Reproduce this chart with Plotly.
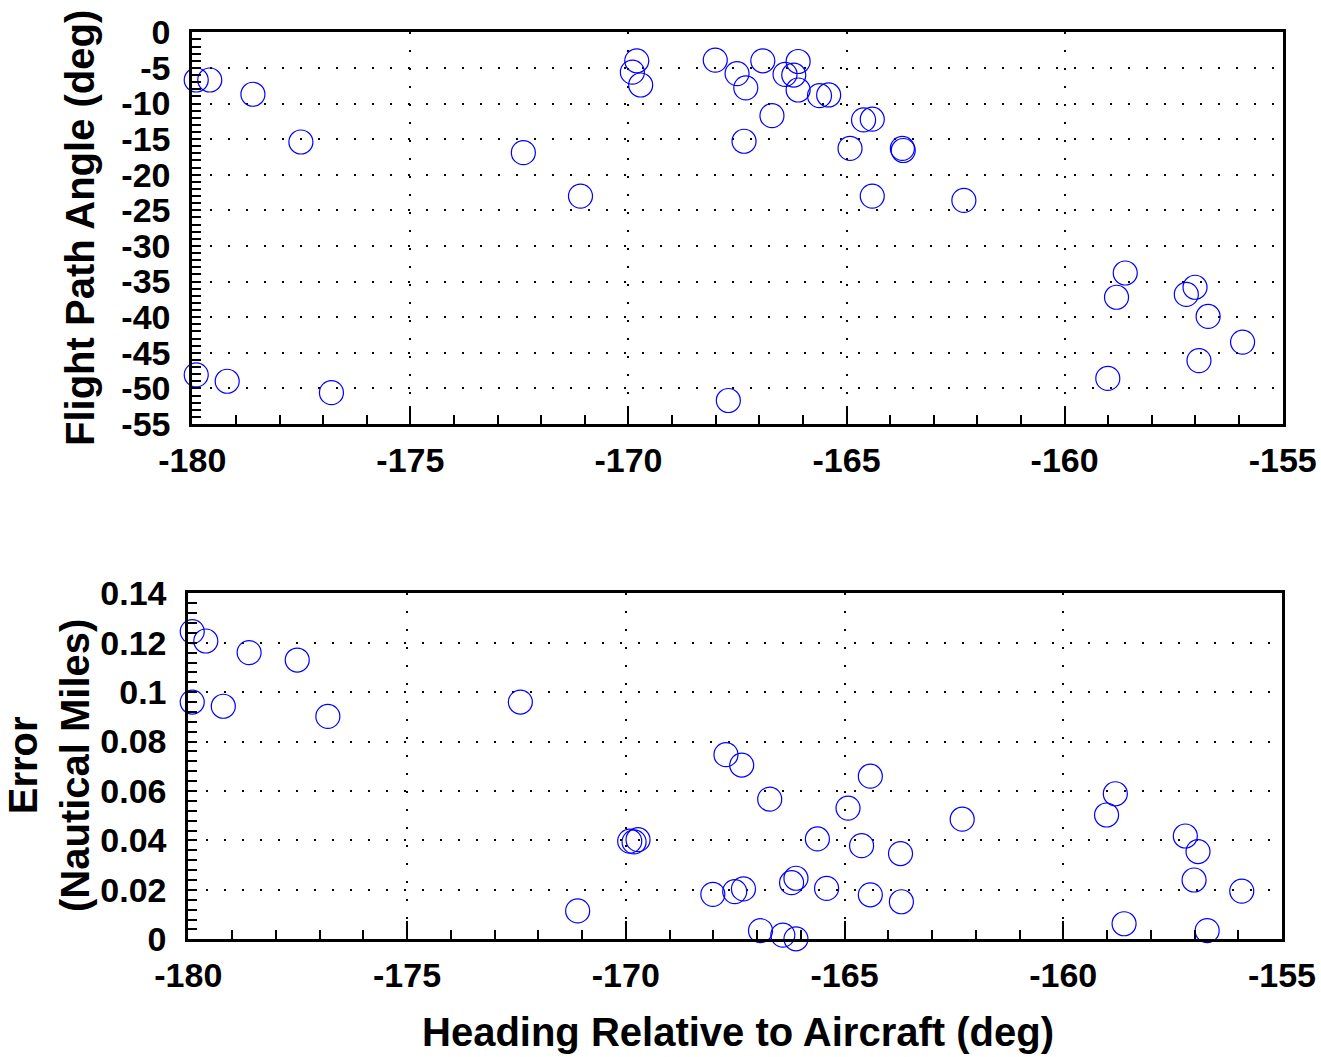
import plotly.graph_objects as go

# Shared heading values (deg)
heading = [-179.91, -179.91, -179.60, -178.61, -177.51, -179.20, -176.81, -172.41,
           -171.10, -169.91, -169.81, -169.72, -168.01, -167.71, -167.51, -167.35,
           -167.31, -166.92, -166.71, -166.41, -166.21, -166.11, -166.11, -165.62,
           -165.41, -164.92, -164.61, -164.41, -164.41, -163.72, -163.70, -162.31,
           -159.01, -158.81, -158.61, -157.21, -157.01, -156.92, -156.71, -155.92]

flight_path_angle = [-6.7, -48.1, -6.7, -8.7, -15.4, -49.0, -50.6, -16.9,
                     -23.0, -5.6, -4.0, -7.4, -3.9, -51.7, -5.8, -15.3,
                     -7.8, -4.0, -11.7, -5.9, -6.0, -4.1, -8.1, -8.9,
                     -8.8, -16.3, -12.3, -12.2, -23.0, -16.3, -16.6, -23.6,
                     -48.6, -37.2, -33.8, -36.8, -35.8, -46.1, -39.9, -43.5]

error_nm = [0.1245, 0.0960, 0.1207, 0.1160, 0.1130, 0.0943, 0.0902, 0.0960,
            0.0115, 0.0397, 0.0394, 0.0403, 0.0182, 0.0747, 0.0193, 0.0705,
            0.0204, 0.0035, 0.0567, 0.0017, 0.0229, 0.0247, 0.0002, 0.0406,
            0.0206, 0.0531, 0.0379, 0.0660, 0.0180, 0.0347, 0.0152, 0.0486,
            0.0503, 0.0589, 0.0063, 0.0418, 0.0240, 0.0355, 0.0035, 0.0195]

x_ticks = [-180, -175, -170, -165, -160, -155]
x_ticktext = ["-180", "-175", "-170", "-165", "-160", "-155"]
y1_ticks = [0, -5, -10, -15, -20, -25, -30, -35, -40, -45, -50, -55]
y1_ticktext = ["0", "-5", "-10", "-15", "-20", "-25", "-30", "-35", "-40", "-45", "-50", "-55"]
y2_ticks = [0, 0.02, 0.04, 0.06, 0.08, 0.1, 0.12, 0.14]
y2_ticktext = ["0", "0.02", "0.04", "0.06", "0.08", "0.1", "0.12", "0.14"]

W, H = 1321, 1057
FONT = "Liberation Sans"
tickfont = dict(family=FONT, size=34, color="black", weight="bold")
titlefont = dict(family=FONT, size=40, color="black", weight="bold")

marker = dict(symbol="circle-open", size=24, color="#0000ff", line=dict(width=1.2, color="#0000ff"))

fig = go.Figure()
fig.add_trace(go.Scatter(x=heading, y=flight_path_angle, mode="markers", marker=marker,
                         xaxis="x", yaxis="y", cliponaxis=False, showlegend=False))
fig.add_trace(go.Scatter(x=heading, y=error_nm, mode="markers", marker=marker,
                         xaxis="x2", yaxis="y2", cliponaxis=False, showlegend=False))

common = dict(showline=True, linewidth=3, linecolor="black", mirror=True,
              showgrid=True, gridcolor="black", gridwidth=2, griddash="2px,16px",
              ticks="inside", tickcolor="black", tickwidth=2, tickfont=tickfont,
              zeroline=False, fixedrange=True, automargin=False)

minor_x = dict(ticks="inside", dtick=1, ticklen=9, tickwidth=2, tickcolor="black", showgrid=False)

fig.update_layout(
    width=W, height=H,
    margin=dict(l=0, r=0, t=0, b=0, autoexpand=False),
    paper_bgcolor="white", plot_bgcolor="white",
    xaxis=dict(common, domain=[192.3 / W, 1282.7 / W], range=[-180, -155],
               tickvals=x_ticks, ticktext=x_ticktext, ticklen=18, ticklabelstandoff=4,
               minor=minor_x, anchor="y"),
    yaxis=dict(common, domain=[1 - 424 / H, 1 - 32.3 / H], range=[-55, 0],
               tickvals=y1_ticks, ticktext=y1_ticktext, ticklen=9, ticklabelstandoff=12,
               minor=dict(ticks="inside", dtick=1, ticklen=9, tickwidth=2, tickcolor="black", showgrid=False),
               anchor="x"),
    xaxis2=dict(common, domain=[188.3 / W, 1282 / W], range=[-180, -155],
                tickvals=x_ticks, ticktext=x_ticktext, ticklen=18, ticklabelstandoff=4,
                minor=minor_x, anchor="y2"),
    yaxis2=dict(common, domain=[1 - 939.3 / H, 1 - 593.3 / H], range=[0, 0.14],
                tickvals=y2_ticks, ticktext=y2_ticktext, ticklen=9, ticklabelstandoff=12,
                minor=dict(ticks="inside", dtick=0.004, ticklen=9, tickwidth=2, tickcolor="black", showgrid=False),
                anchor="x2"),
    annotations=[
        dict(text="Flight Path Angle (deg)", xref="paper", yref="paper",
             x=80 / W, y=1 - 228 / H, xanchor="center", yanchor="middle",
             textangle=-90, showarrow=False, font=titlefont),
        dict(text="Error<br>(Nautical Miles)", xref="paper", yref="paper",
             x=49 / W, y=1 - 766 / H, xanchor="center", yanchor="middle",
             textangle=-90, showarrow=False, font=titlefont),
        dict(text="Heading Relative to Aircraft (deg)", xref="paper", yref="paper",
             x=738 / W, y=1 - 1032 / H, xanchor="center", yanchor="middle",
             showarrow=False, font=titlefont),
    ],
)

fig.write_html("out.html")
